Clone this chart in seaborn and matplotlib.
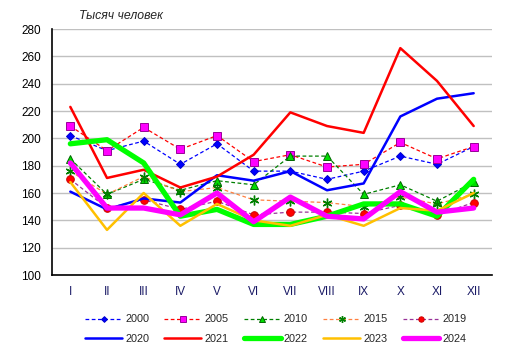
import numpy as np
import pandas as pd
import matplotlib
matplotlib.use("Agg")
import matplotlib.pyplot as plt
import seaborn as sns

MONTHS = ["I", "II", "III", "IV", "V", "VI", "VII", "VIII", "IX", "X", "XI", "XII"]

y2000 = [202, 191, 198, 181, 196, 176, 176, 170, 176, 187, 181, 194]
y2005 = [209, 191, 208, 192, 202, 183, 188, 179, 181, 197, 185, 194]
y2010 = [185, 159, 170, 162, 169, 166, 187, 187, 159, 166, 154, 168]
y2015 = [176, 159, 172, 161, 164, 155, 154, 153, 150, 157, 152, 159]
y2019 = [170, 149, 155, 148, 154, 144, 146, 146, 145, 151, 144, 153]
y2020 = [161, 148, 156, 153, 173, 169, 176, 162, 167, 216, 229, 233]
y2021 = [223, 171, 177, 164, 172, 188, 219, 209, 204, 266, 242, 209]
y2022 = [196, 199, 182, 143, 148, 137, 137, 143, 152, 152, 143, 170]
y2023 = [168, 133, 160, 136, 152, 140, 136, 144, 136, 149, 147, 160]
y2024 = [182, 149, 149, 144, 160, 139, 157, 143, 141, 161, 146, 149]

YEARS = ["2000", "2005", "2010", "2015", "2019", "2020", "2021", "2022", "2023", "2024"]
VALUES = [y2000, y2005, y2010, y2015, y2019, y2020, y2021, y2022, y2023, y2024]

STYLES = {
    "2000": dict(color="#0000ff", ls=(0, (3, 2)), lw=0.9, marker="D", ms=4.2, mfc="#0000ff", mec="#0000cc"),
    "2005": dict(color="#ff0000", ls=(0, (3, 2)), lw=0.9, marker="s", ms=5.5, mfc="#ff00ff", mec="#990099"),
    "2010": dict(color="#008000", ls=(0, (3, 2)), lw=0.9, marker="^", ms=5.5, mfc="#00dd00", mec="#006600"),
    "2015": dict(color="#ff8040", ls=(0, (3, 2)), lw=0.9, marker=(6, 2, 0), ms=7, mfc="#008000", mec="#008000", mew=1.0),
    "2019": dict(color="#993399", ls=(0, (3, 2)), lw=0.9, marker="o", ms=5.5, mfc="#ff0000", mec="#cc0000"),
    "2020": dict(color="#0000ff", ls="-", lw=1.8),
    "2021": dict(color="#ff0000", ls="-", lw=1.8),
    "2022": dict(color="#00ff00", ls="-", lw=3.8),
    "2023": dict(color="#ffc000", ls="-", lw=1.8),
    "2024": dict(color="#ff00ff", ls="-", lw=3.8),
}

sns.set_style("white")
plt.rcParams["font.family"] = ["Liberation Sans", "DejaVu Sans"]

fig = plt.figure(figsize=(5.12, 3.55), dpi=100)
ax = fig.add_axes([52 / 512, 1 - 275 / 355, 440 / 512, 246 / 355])

for year, vals in zip(YEARS, VALUES):
    df = pd.DataFrame({"month": MONTHS, "value": vals})
    st = STYLES[year]
    sns.lineplot(
        data=df, x="month", y="value", ax=ax, label=year,
        color=st["color"], linestyle=st["ls"], linewidth=st["lw"],
        marker=st.get("marker"), markersize=st.get("ms", 0),
        markerfacecolor=st.get("mfc", st["color"]),
        markeredgecolor=st.get("mec", st["color"]),
        markeredgewidth=st.get("mew", 0.7), sort=False,
    )

ax.set_xlim(-0.5, 11.5)
ax.set_ylim(100, 280)
ax.set_yticks(np.arange(100, 281, 20))
ax.set_xlabel("")
ax.set_ylabel("")
ax.grid(axis="y", color="#c0c0c0", linewidth=1.0)
ax.grid(axis="x", visible=False)
ax.set_axisbelow(True)
for side in ["top", "right"]:
    ax.spines[side].set_visible(False)
for side in ["left", "bottom"]:
    ax.spines[side].set_color("black")
    ax.spines[side].set_linewidth(1.2)
ax.tick_params(axis="y", length=0, labelsize=8.5, pad=8, labelcolor="black")
ax.tick_params(axis="x", length=0, labelsize=8.5, pad=8, labelcolor="#1a1a66")

fig.text(79 / 512, 1 - 16 / 355, "Тысяч человек", fontsize=8.8, style="italic",
         va="center", ha="left")

handles, labels = ax.get_legend_handles_labels()
ax.get_legend().remove()
order = []
for i in range(5):
    order += [i, i + 5]
fig.legend([handles[i] for i in order], [labels[i] for i in order],
           ncol=5, loc="center", bbox_to_anchor=(276 / 512, 1 - 329 / 355),
           frameon=False, fontsize=7.8, handlelength=3.4, handletextpad=0.3,
           columnspacing=1.4, labelspacing=0.85, markerscale=0.7)

fig.savefig("out.png", dpi=100)
